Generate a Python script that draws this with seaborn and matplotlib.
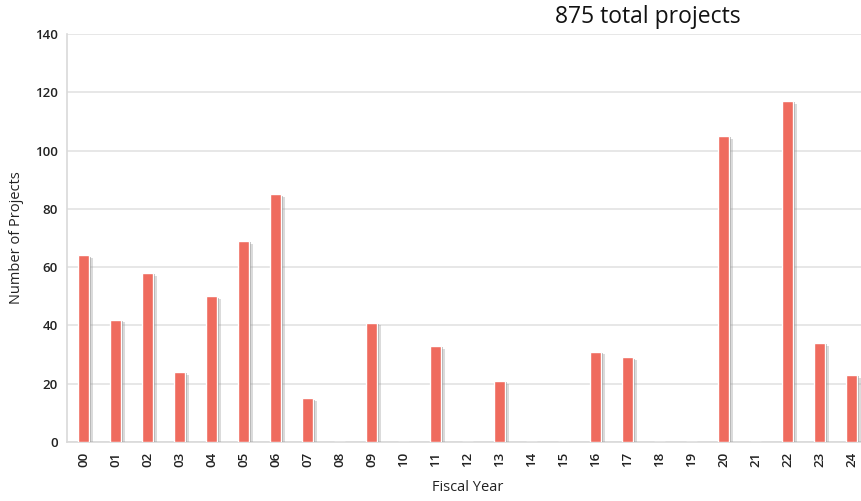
import matplotlib
matplotlib.use("Agg")
import matplotlib.pyplot as plt
import matplotlib.patheffects as pe
import seaborn as sns
import pandas as pd

years = ["00", "01", "02", "03", "04", "05", "06", "07", "08", "09", "10", "11",
         "12", "13", "14", "15", "16", "17", "18", "19", "20", "21", "22", "23", "24"]
projects = [64, 42, 58, 24, 50, 69, 85, 15, 0, 41, 0, 33,
            0, 21, 0, 0, 31, 29, 0, 0, 105, 0, 117, 34, 23]
title_text = "875 total projects"
y_ticks = [0, 20, 40, 60, 80, 100, 120, 140]

sns.set_theme(style="white")
plt.rcParams['font.family'] = ['Open Sans', 'DejaVu Sans']

df = pd.DataFrame({"year": years, "projects": projects})

W, H = 862, 501
fig = plt.figure(figsize=(W / 100, H / 100), dpi=100)
left, right, top, bottom = 67.5, 867.5, 34, 442
ax = fig.add_axes([left / W, 1 - bottom / H, (right - left) / W, (bottom - top) / H])

sns.barplot(data=df, x="year", y="projects", color="#EF6B5E", saturation=1,
            width=0.35, ax=ax, zorder=3)
for p in ax.patches:
    p.set_path_effects([
        pe.SimplePatchShadow(offset=(3, -2), shadow_rgbFace="#999999", alpha=0.35),
        pe.SimplePatchShadow(offset=(1.5, -1), shadow_rgbFace="#777777", alpha=0.5),
        pe.Normal()])

ax.set_ylim(0, 140)
ax.set_xlim(-0.5, len(years) - 0.5)
ax.set_yticks(y_ticks)
ax.yaxis.grid(True, color="#E3E3E3", linewidth=1.2, zorder=0)
ax.set_axisbelow(True)
for s in ["top", "right"]:
    ax.spines[s].set_visible(False)
ax.spines["left"].set_color("#D9D9D9")
ax.spines["bottom"].set_color("#D9D9D9")
ax.spines["left"].set_linewidth(1.2)
ax.spines["bottom"].set_linewidth(1.2)
ax.tick_params(axis="x", rotation=90, labelsize=9.5, colors="#222222", length=0, pad=7)
ax.tick_params(axis="y", labelsize=9.5, colors="#222222", length=4, width=1, color="#D9D9D9", pad=3)
for lbl in ax.get_xticklabels() + ax.get_yticklabels():
    lbl.set_fontweight("semibold")
ax.set_xlabel("Fiscal Year", fontsize=10.5, color="#222222", labelpad=9)
ax.set_ylabel("Number of Projects", fontsize=10.5, color="#222222", labelpad=8)

fig.text(648 / W, 1 - 17 / H, title_text, ha="center", va="center", fontsize=16.5, color="#111111")

fig.savefig("out.png", dpi=100)
